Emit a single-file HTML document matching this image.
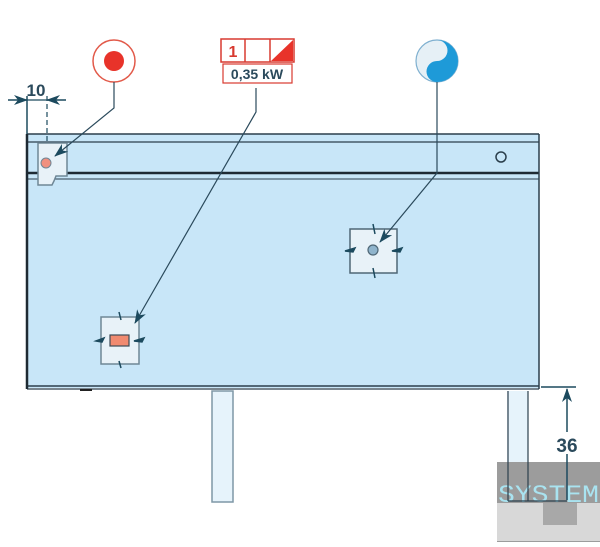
<!DOCTYPE html>
<html><head><style>html,body{margin:0;padding:0;background:#fff}svg{display:block}</style></head>
<body>
<svg width="600" height="547" viewBox="0 0 600 547" xmlns="http://www.w3.org/2000/svg" font-family="Liberation Sans, sans-serif">
<defs>
<marker id="ar" markerWidth="14" markerHeight="10" refX="13" refY="5" orient="auto" markerUnits="userSpaceOnUse"><path d="M0,0 L14,5 L0,10 L4,5 z" fill="#1c4a5e"/></marker>
</defs>
<!-- main body -->
<rect x="27" y="134" width="512" height="254" fill="#c8e6f8"/>
<line x1="27" y1="134" x2="539" y2="134" stroke="#2b3f4c" stroke-width="1.5"/>
<line x1="27" y1="142" x2="539" y2="142" stroke="#2b3f4c" stroke-width="1.2"/>
<line x1="27" y1="173" x2="539" y2="173" stroke="#1e2a33" stroke-width="2.5"/>
<line x1="27" y1="179" x2="539" y2="179" stroke="#2b3f4c" stroke-width="1"/>
<line x1="27" y1="386" x2="539" y2="386" stroke="#2b3f4c" stroke-width="1.5"/>
<line x1="27" y1="389" x2="539" y2="389" stroke="#2b3f4c" stroke-width="1.2"/>
<line x1="27" y1="134" x2="27" y2="389" stroke="#1e2a33" stroke-width="2.5"/>
<line x1="539" y1="134" x2="539" y2="389" stroke="#2b3f4c" stroke-width="1.5"/>
<rect x="80" y="389" width="12" height="2" fill="#222"/>
<circle cx="501" cy="157" r="5" fill="none" stroke="#2b3f4c" stroke-width="1.5"/>
<!-- legs -->
<rect x="212" y="391" width="21" height="111" fill="#e6f3fb" stroke="#7f97a6" stroke-width="1.5"/>
<rect x="507" y="391" width="21" height="110" fill="#e6f3fb"/>
<!-- watermark -->
<rect x="497" y="462" width="103" height="80" fill="#9c9c9c"/>
<rect x="497" y="503" width="103" height="38" fill="#d8d8d8"/>
<rect x="543" y="503" width="34" height="22" fill="#a8a8a8"/>
<text x="498" y="502" font-size="25" fill="#a9e3f0" font-family="Liberation Mono, monospace" textLength="101" lengthAdjust="spacingAndGlyphs">SYSTEM</text>
<line x1="508" y1="391" x2="508" y2="501" stroke="#2b3f4c" stroke-width="1.2"/>
<line x1="528" y1="391" x2="528" y2="501" stroke="#2b3f4c" stroke-width="1.2"/>
<line x1="508" y1="501" x2="567" y2="501" stroke="#2b3f4c" stroke-width="1.2"/>
<!-- dim 36 -->
<line x1="541" y1="387" x2="576" y2="387" stroke="#1c4a5e" stroke-width="1.5"/>
<line x1="567" y1="500" x2="567" y2="389" stroke="#1c4a5e" stroke-width="1.5" marker-end="url(#ar)"/>
<rect x="553" y="432" width="28" height="22" fill="#fff"/>
<text x="567" y="452" font-size="19" font-weight="bold" fill="#2b4a5c" text-anchor="middle">36</text>
<!-- dim 10 -->
<line x1="27" y1="96" x2="27" y2="134" stroke="#1c4a5e" stroke-width="1.5"/>
<line x1="47" y1="96" x2="47" y2="142" stroke="#1c4a5e" stroke-width="1.2" stroke-dasharray="5,3"/>
<line x1="8" y1="100" x2="27" y2="100" stroke="#1c4a5e" stroke-width="1.5" marker-end="url(#ar)"/>
<line x1="66" y1="100" x2="47" y2="100" stroke="#1c4a5e" stroke-width="1.5" marker-end="url(#ar)"/>
<line x1="27" y1="100" x2="47" y2="100" stroke="#1c4a5e" stroke-width="1.2"/>
<text x="36" y="96" font-size="17" font-weight="bold" fill="#2b4a5c" text-anchor="middle">10</text>
<!-- box 1 -->
<path d="M38,143 H67 V176 H56 L54,181 L52,185 H38 Z" fill="#e8f2f8" stroke="#6f8796" stroke-width="1.5"/>
<circle cx="46" cy="163" r="5" fill="#f0907f" stroke="#6f8796"/>
<!-- box 2 -->
<rect x="101" y="317" width="38" height="47" fill="#e8f2f8" stroke="#6f8796" stroke-width="1.5"/>
<path d="M96,341 L104,338 L102,342 Z M134,341 L144,338 L142,342 Z M119,312 L121,320 M119,361 L121,368" stroke="#1c4a5e" stroke-width="1.5" fill="#1c4a5e"/>
<rect x="110" y="335" width="19" height="11" fill="#f08a70" stroke="#3b4a55" stroke-width="1.2"/>
<!-- box 3 -->
<rect x="350" y="229" width="47" height="44" fill="#e8f2f8" stroke="#4f6776" stroke-width="1.5"/>
<path d="M345,251 L355,248 L353,252 Z M392,251 L402,248 L400,252 Z M373,224 L375,234 M373,268 L375,278" stroke="#1c4a5e" stroke-width="1.5" fill="#1c4a5e"/>
<circle cx="373" cy="250" r="5" fill="#8fb4cc" stroke="#4f6776" stroke-width="1.2"/>
<!-- red icon -->
<circle cx="114" cy="61" r="21" fill="#fff" stroke="#e25a4a" stroke-width="1.5"/>
<circle cx="114" cy="61" r="10" fill="#e8332a"/>
<polyline points="114,82 114,108 55,156" fill="none" stroke="#2b4a5c" stroke-width="1.2" marker-end="url(#ar)"/>
<!-- power label -->
<rect x="221" y="39" width="73" height="23" fill="#fff" stroke="#d83a30" stroke-width="1.5"/>
<line x1="245" y1="39" x2="245" y2="62" stroke="#d83a30" stroke-width="1.5"/>
<line x1="270" y1="39" x2="270" y2="62" stroke="#d83a30" stroke-width="1.5"/>
<path d="M293,40 L293,61 L271,61 Z" fill="#e8332a"/>
<text x="233" y="57" font-size="16" font-weight="bold" fill="#d83a30" text-anchor="middle">1</text>
<rect x="223" y="64" width="69" height="19" fill="#fff" stroke="#d83a30" stroke-width="1.2"/>
<text x="257" y="79" font-size="14" font-weight="bold" fill="#2b4a5c" text-anchor="middle">0,35 kW</text>
<polyline points="256,88 256,112 135,323" fill="none" stroke="#2b4a5c" stroke-width="1.2" marker-end="url(#ar)"/>
<!-- blue icon -->
<circle cx="437" cy="61" r="21" fill="#e6f0f6" stroke="#7fb0d0" stroke-width="1.2"/>
<path d="M437,40 A21,21 0 0 1 437,82 A10.5,10.5 0 0 1 437,61 A10.5,10.5 0 0 0 437,40 Z" fill="#1e9ad8"/>
<polyline points="437,82 437,173 380,242" fill="none" stroke="#2b4a5c" stroke-width="1.2" marker-end="url(#ar)"/>
</svg>
</body></html>
